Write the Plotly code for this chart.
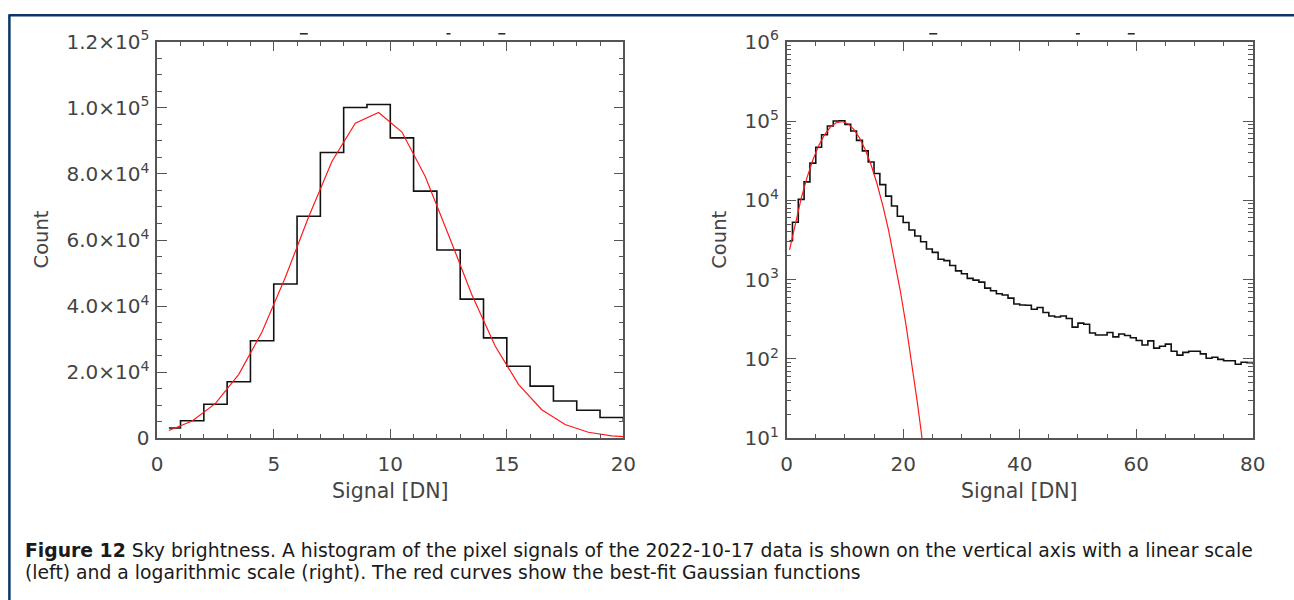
import plotly.graph_objects as go

# The page is photographed with a small fixed offset/scale; positions below are given in
# target-picture pixels and converted to figure paper coordinates.
FW, FH = 1312, 616
MARGIN = 8
SX, OXR = 0.988, -3.8
SY, OYR = 0.963, 3.4

# ---- data ----
bin_centers = [0.5, 1.5, 2.5, 3.5, 4.5, 5.5, 6.5, 7.5, 8.5, 9.5,
               10.5, 11.5, 12.5, 13.5, 14.5, 15.5, 16.5, 17.5, 18.5, 19.5,
               20.5, 21.5, 22.5, 23.5, 24.5, 25.5, 26.5, 27.5, 28.5, 29.5,
               30.5, 31.5, 32.5, 33.5, 34.5, 35.5, 36.5, 37.5, 38.5, 39.5,
               40.5, 41.5, 42.5, 43.5, 44.5, 45.5, 46.5, 47.5, 48.5, 49.5,
               50.5, 51.5, 52.5, 53.5, 54.5, 55.5, 56.5, 57.5, 58.5, 59.5,
               60.5, 61.5, 62.5, 63.5, 64.5, 65.5, 66.5, 67.5, 68.5, 69.5,
               70.5, 71.5, 72.5, 73.5, 74.5, 75.5, 76.5, 77.5, 78.5, 79.5,
               80.5]
counts = [3100, 5300, 10300, 17100, 29500, 46700, 67200, 86500, 100100, 101000,
          90900, 74800, 57000, 42100, 30400, 21800, 15800, 11300, 8500, 6300,
          5260, 4230, 3550, 3010, 2440, 2210, 1810, 1740, 1510, 1290,
          1190, 1040, 986, 931, 783, 726, 665, 640, 586, 493,
          479, 475, 423, 445, 385, 349, 339, 349, 324, 252,
          283, 274, 213, 201, 201, 216, 190, 207, 198, 185,
          171, 150, 169, 137, 145, 154, 125, 112, 121, 125,
          125, 116, 102, 105, 99, 95, 95, 86, 91, 90,
          88]

fit_x = [0.5, 1.5, 2.5, 3.5, 4.5, 5.5, 6.5, 7.5, 8.5, 9.5,
         10.5, 11.5, 12.5, 13.5, 14.5, 15.5, 16.5, 17.5, 18.5, 19.5,
         20.5, 21.5, 22.5, 23.5]
fit_y = [2370, 5250, 10570, 19350, 32210, 48730, 67040, 83860, 95360, 98590,
         92680, 79200, 61530, 43470, 27910, 16300, 8650, 4175, 1832, 730,
         265, 87.4, 26.2, 7.15]

lin_tickvals = [0, 20000, 40000, 60000, 80000, 100000, 120000]
lin_ticktext = ["0", "2.0×10<sup>4</sup>", "4.0×10<sup>4</sup>", "6.0×10<sup>4</sup>",
                "8.0×10<sup>4</sup>", "1.0×10<sup>5</sup>", "1.2×10<sup>5</sup>"]
log_tickvals = [10, 100, 1000, 10000, 100000, 1000000]
log_ticktext = ["10<sup>1</sup>", "10<sup>2</sup>", "10<sup>3</sup>",
                "10<sup>4</sup>", "10<sup>5</sup>", "10<sup>6</sup>"]

caption_bold = "Figure 12"
caption_line1 = (" Sky brightness. A histogram of the pixel signals of the 2022-10-17 data "
                 "is shown on the vertical axis with a linear scale")
caption_line2 = "(left) and a logarithmic scale (right). The red curves show the best-fit Gaussian functions"

# ---- geometry (target picture pixels) ----
L1, R1 = 155.7, 623.0
L2, R2 = 786.7, 1254.0
TOP, BOT = 39.0, 437.7


def px(x):
    return ((x - OXR) / SX - MARGIN) / FW


def py(y):
    return 1 - ((y - OYR) / SY - MARGIN) / FH


AX = "#555555"
TXT = "#444444"
FONT = "DejaVu Sans"

fig = go.Figure()
hist_line = dict(color="#111111", width=1.6, shape="hvh")
fit_line = dict(color="#ff1a1a", width=1.2)
fig.add_trace(go.Scatter(x=bin_centers, y=counts, mode="lines", line=hist_line,
                         xaxis="x", yaxis="y", showlegend=False, hoverinfo="skip"))
fig.add_trace(go.Scatter(x=fit_x, y=fit_y, mode="lines", line=fit_line,
                         xaxis="x", yaxis="y", showlegend=False, hoverinfo="skip"))
fig.add_trace(go.Scatter(x=bin_centers, y=counts, mode="lines", line=hist_line,
                         xaxis="x2", yaxis="y2", showlegend=False, hoverinfo="skip"))
fig.add_trace(go.Scatter(x=fit_x, y=fit_y, mode="lines", line=fit_line,
                         xaxis="x2", yaxis="y2", showlegend=False, hoverinfo="skip"))

common = dict(showline=True, linecolor=AX, linewidth=1.5, mirror="allticks",
              ticks="inside", tickcolor=AX, tickwidth=1.2, ticklen=10,
              showgrid=False, zeroline=False,
              tickfont=dict(family=FONT, size=20, color=TXT))

minor_y_lin = [v * 5000 for v in range(25)]
minor_y_log = [k * 10 ** e for e in range(1, 6) for k in range(2, 10)]

fig.update_layout(
    width=FW, height=FH, margin=dict(l=0, r=0, t=0, b=0),
    paper_bgcolor="white", plot_bgcolor="white",
    xaxis=dict(common, domain=[px(L1), px(R1)], range=[0, 20], anchor="y",
               tickmode="linear", tick0=0, dtick=5, ticklabelstandoff=7,
               minor=dict(ticks="inside", ticklen=5, dtick=1, tickcolor=AX, tickwidth=1.2)),
    yaxis=dict(common, domain=[py(BOT), py(TOP)], range=[0, 120000], anchor="x",
               tickmode="array", tickvals=lin_tickvals, ticktext=lin_ticktext,
               ticklabelstandoff=2,
               minor=dict(ticks="inside", ticklen=5, tickmode="array", tickvals=minor_y_lin,
                          tickcolor=AX, tickwidth=1.2)),
    xaxis2=dict(common, domain=[px(L2), px(R2)], range=[0, 80], anchor="y2",
                tickmode="linear", tick0=0, dtick=20, ticklabelstandoff=7,
                minor=dict(ticks="inside", ticklen=5, dtick=5, tickcolor=AX, tickwidth=1.2)),
    yaxis2=dict(common, domain=[py(BOT), py(TOP)], type="log", range=[1, 6], anchor="x2",
                tickmode="array", tickvals=log_tickvals, ticktext=log_ticktext,
                ticklabelstandoff=2,
                minor=dict(ticks="inside", ticklen=5, tickmode="array", tickvals=minor_y_log,
                           tickcolor=AX, tickwidth=1.2)),
)

frame_y = min(py(9.5), 1 - 1.3 / FH)
shapes = [
    dict(type="line", xref="paper", yref="paper", x0=px(6.5), x1=1, y0=frame_y, y1=frame_y,
         line=dict(color="#0b3766", width=2.5)),
    dict(type="line", xref="paper", yref="paper", x0=px(7.5), x1=px(7.5), y0=frame_y, y1=0,
         line=dict(color="#0b3766", width=2.5)),
]
# small fragments of a clipped title above each panel
for left in (L1, L2):
    for a, b in ((143, 151), (290, 294), (342, 349)):
        shapes.append(dict(type="line", xref="paper", yref="paper",
                           x0=px(left + a), x1=px(left + b), y0=py(31), y1=py(31),
                           line=dict(color="#222222", width=1.5)))
fig.update_layout(shapes=shapes)

ann = []
title_font = dict(family=FONT, size=20.5, color=TXT)
for left, right in ((L1, R1), (L2, R2)):
    ann.append(dict(text="Signal [DN]", xref="paper", yref="paper",
                    x=px((left + right) / 2), y=py(491), xanchor="center", yanchor="middle",
                    showarrow=False, font=title_font))
count_font = dict(family=FONT, size=19.5, color=TXT)
ann.append(dict(text="Count", xref="paper", yref="paper", x=px(40), y=py(238),
                xanchor="center", yanchor="middle", textangle=-90, showarrow=False, font=count_font))
ann.append(dict(text="Count", xref="paper", yref="paper", x=px(720), y=py(238),
                xanchor="center", yanchor="middle", textangle=-90, showarrow=False, font=count_font))
cap_font = dict(family=FONT, size=18.8, color="#1a1a1a")
ann.append(dict(text="<b>" + caption_bold + "</b>" + caption_line1, xref="paper", yref="paper",
                x=px(21), y=py(551), xanchor="left", yanchor="middle", showarrow=False, font=cap_font))
ann.append(dict(text=caption_line2, xref="paper", yref="paper",
                x=px(21), y=py(573), xanchor="left", yanchor="middle", showarrow=False, font=cap_font))
fig.update_layout(annotations=ann)

fig.write_html("out.html")
